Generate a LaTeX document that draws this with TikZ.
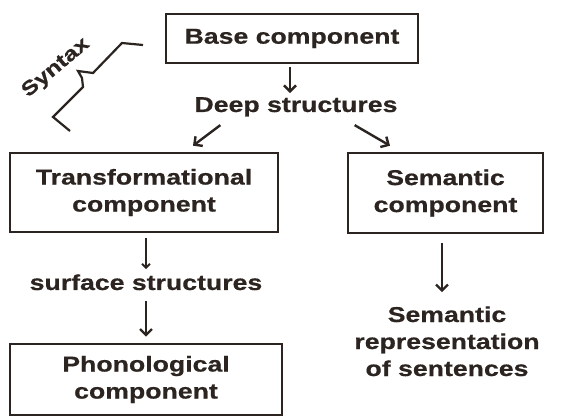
\documentclass[tikz,border=0pt]{standalone}
\usepackage{fontspec}
\setmainfont{Liberation Sans}[FakeStretch=1.24,BoldFeatures={FakeBold=0.6}]
\usetikzlibrary{arrows.meta}
\definecolor{ink}{HTML}{2B2420}
\begin{document}
\begin{tikzpicture}[x=1pt,y=-1pt,
  ink/.style={draw=ink,text=ink},
  box/.style={ink,line width=2.6pt,rectangle,inner sep=0pt,align=center,
    font=\bfseries\fontsize{21.5}{27}\selectfont},
  lbl/.style={text=ink,inner sep=0pt,align=center,
    font=\bfseries\fontsize{21.5}{27}\selectfont},
  flow/.style={draw=ink,line width=2.4pt,-{Straight Barb[length=6pt,width=12pt,line width=2.4pt]}},
  thinflow/.style={draw=ink,line width=2pt,-{Straight Barb[length=4pt,width=8pt,line width=2pt]}}]
  \useasboundingbox[fill=white] (0,0) rectangle (571,417);

  % boxes
  \node[box,minimum width=252pt,minimum height=49pt] (base) at (292,38.5) {Base component};
  \node[box,minimum width=268pt,minimum height=79pt] (trans) at (144,192.5) {Transformational\\component};
  \node[box,minimum width=195pt,minimum height=80pt] (sem) at (445.5,193) {Semantic\\component};
  \node[box,minimum width=272pt,minimum height=71pt] (phon) at (146,379.5) {Phonological\\component};

  % free labels (base anchor of a multi-line label sits on its last line)
  \node[lbl,anchor=base] (deep) at (296,112) {Deep structures};
  \node[lbl,anchor=base] (surf) at (146,290) {surface structures};
  \node[lbl,anchor=base] (semrep) at (447,376) {Semantic\\representation\\of sentences};

  % connectors
  \draw[flow,shorten <=3pt,shorten >=4pt] (base.south -| 290,0) -- (deep.north -| 290,0);
  \draw[flow] ([shift={(26pt,-8.5pt)}]deep.south west) -- ([shift={(49pt,6pt)}]trans.north);
  \draw[flow] ([shift={(-43pt,-8.5pt)}]deep.south east) -- ([shift={(-55.5pt,6pt)}]sem.north);
  \draw[thinflow,shorten <=5pt,shorten >=5pt] (trans.south -| surf.north) -- (surf.north);
  \draw[flow,shorten <=11pt,shorten >=6pt] (surf.south) -- (phon.north);
  \draw[flow,shorten <=9pt,shorten >=14pt] (sem.south -| 442,0) -- (semrep.north -| 442,0);

  % syntax bracket with its label
  \draw[ink,line width=2.2pt,line join=miter]
    (143,45) -- (122,43) -- (93,73) -- (78,71) -- (82,78) -- (83,87) -- (53,117) -- (70,131);
  \node[text=ink,inner sep=0pt,rotate=40,font=\bfseries\fontsize{20}{24}\selectfont] (syntax) at (56,68) {Syntax};
\end{tikzpicture}
\end{document}
